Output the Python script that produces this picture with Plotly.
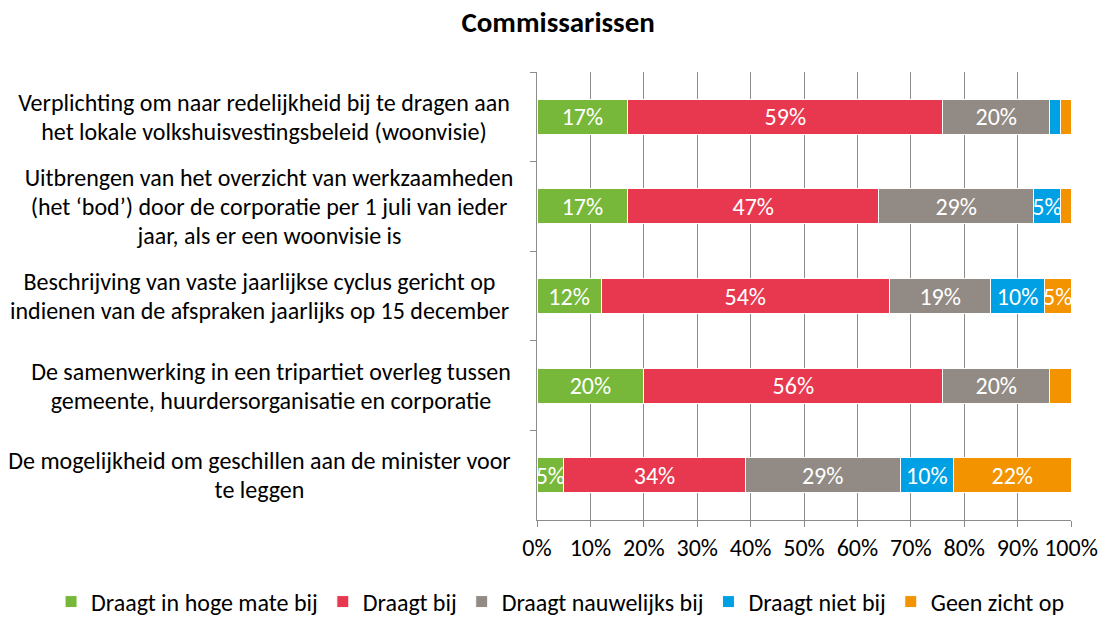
import plotly.graph_objects as go

# Survey items (top to bottom) and the wrapped lines used for their labels
categories = [
    "Verplichting woonvisie",
    "Bod per 1 juli",
    "Jaarlijkse cyclus",
    "Tripartiet overleg",
    "Geschillen minister",
]
category_lines = [
    ["Verplichting om naar redelijkheid bij te dragen aan",
     "het lokale volkshuisvestingsbeleid (woonvisie)"],
    ["Uitbrengen van het overzicht van werkzaamheden",
     "(het \u2018bod\u2019) door de corporatie per 1 juli van ieder",
     "jaar, als er een woonvisie is"],
    ["Beschrijving van vaste jaarlijkse cyclus gericht op",
     "indienen van de afspraken jaarlijks op 15 december"],
    ["De samenwerking in een tripartiet overleg tussen",
     "gemeente, huurdersorganisatie en corporatie"],
    ["De mogelijkheid om geschillen aan de minister voor",
     "te leggen"],
]
block_widths = [500, 490, 509, 486, 509]

series_names = [
    "Draagt in hoge mate bij",
    "Draagt bij",
    "Draagt nauwelijks bij",
    "Draagt niet bij",
    "Geen zicht op",
]
# Percentages per series, one value per category
series_values = [
    [17, 17, 12, 20, 5],
    [59, 47, 54, 56, 34],
    [20, 29, 19, 20, 29],
    [2, 5, 10, 0, 10],
    [2, 2, 5, 4, 22],
]
series_colors = ["#77B83A", "#E8384F", "#928B85", "#00A1E4", "#F39300"]

x_ticks = [i / 10 for i in range(11)]

FONT = "Carlito, Calibri, Lato, sans-serif"
GRID = "#8C8C8C"
SIZE = 24

fig = go.Figure()
for name, vals, color in zip(series_names, series_values, series_colors):
    fig.add_trace(go.Bar(
        y=categories,
        x=[v / 100 for v in vals],
        name=name,
        orientation="h",
        marker=dict(color=color, line=dict(color="white", width=1)),
        text=[f"{v}%" if v >= 5 else "" for v in vals],
        textposition="inside",
        insidetextanchor="middle",
        textangle=0,
        constraintext="none",
        textfont=dict(color="white", size=SIZE, family=FONT),
        hoverinfo="name+x",
    ))

# Category labels: centred lines inside a right-aligned block
line_step = 29
for cat, lines, w in zip(categories, category_lines, block_widths):
    n = len(lines)
    for i, line in enumerate(lines):
        fig.add_annotation(
            xref="paper", yref="y", x=0, y=cat,
            xanchor="right", yanchor="middle",
            xshift=-21, yshift=((n - 1) / 2 - i) * line_step,
            width=w, align="center",
            text=line, showarrow=False,
            font=dict(size=SIZE, family=FONT, color="#000000"),
        )

fig.update_layout(
    barmode="stack",
    bargap=0.61,
    width=1103, height=617,
    margin=dict(l=537, r=32, t=72, b=97, autoexpand=False),
    paper_bgcolor="white",
    plot_bgcolor="white",
    font=dict(family=FONT, size=SIZE, color="#000000"),
    title=dict(
        text="<b>Commissarissen</b>",
        x=0.506, xanchor="center", xref="container",
        y=0.964, yanchor="middle", yref="container",
        font=dict(size=29, family=FONT, color="#000000"),
    ),
    showlegend=True,
    legend=dict(
        orientation="h",
        x=-0.91, xanchor="left", xref="paper",
        y=-0.183, yanchor="middle", yref="paper",
        font=dict(size=SIZE, family=FONT, color="#000000"),
        traceorder="normal",
        itemwidth=30,
        tracegroupgap=0,
    ),
    xaxis=dict(
        range=[0, 1],
        tickvals=x_ticks,
        tickformat=".0%",
        showgrid=True, gridcolor=GRID, gridwidth=1.3,
        zeroline=False,
        showline=True, linecolor=GRID, linewidth=1.3,
        ticks="outside", ticklen=6, tickcolor=GRID, tickwidth=1.3,
        tickfont=dict(size=SIZE, family=FONT, color="#000000"),
        fixedrange=True,
    ),
    yaxis=dict(
        autorange="reversed",
        showticklabels=False,
        showline=True, linecolor=GRID, linewidth=1.3,
        ticks="outside", ticklen=6, tickcolor=GRID, tickwidth=1.3,
        tickson="boundaries",
        showgrid=False,
        fixedrange=True,
    ),
)

fig.write_html("out.html")
